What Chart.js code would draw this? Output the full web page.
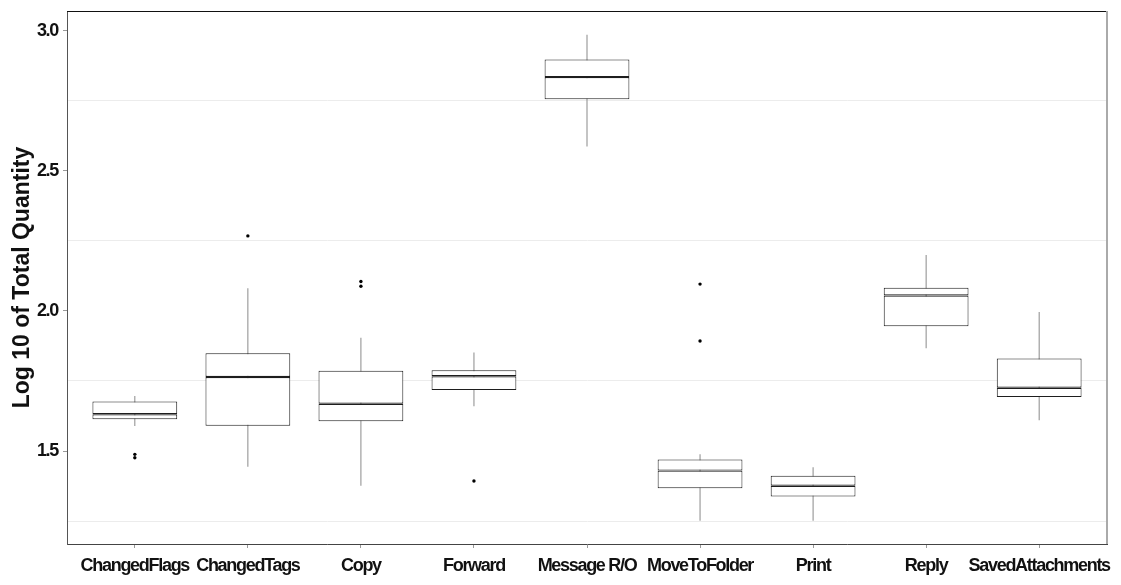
<!DOCTYPE html>
<html><head><meta charset="utf-8">
<script src="https://cdn.jsdelivr.net/npm/chart.js@4.4.1/dist/chart.umd.min.js"></script>
<style>html,body{margin:0;padding:0;background:#fff;} canvas{display:block;}</style>
</head><body>
<canvas id="c" width="1121" height="585"></canvas>
<script>
const categories = ['ChangedFlags','ChangedTags','Copy','Forward','Message R/O','MoveToFolder','Print','Reply','SavedAttachments'];
const whiskerLow  = [1.589, 1.444, 1.376, 1.660, 2.587, 1.251, 1.251, 1.867, 1.610];
const q1          = [1.613, 1.590, 1.606, 1.718, 2.756, 1.367, 1.338, 1.945, 1.693];
const median      = [1.631, 1.764, 1.669, 1.767, 2.835, 1.430, 1.376, 2.055, 1.726];
const q3          = [1.677, 1.849, 1.787, 1.788, 2.898, 1.470, 1.412, 2.083, 1.830];
const whiskerHigh = [1.696, 2.081, 1.904, 1.852, 2.986, 1.488, 1.442, 2.200, 1.996];
const outlierCategory = ['ChangedFlags','ChangedFlags','ChangedTags','Copy','Copy','Forward','MoveToFolder','MoveToFolder'];
const outlierValue    = [1.488, 1.476, 2.268, 2.105, 2.088, 1.393, 2.096, 1.893];
const yTickValues = [1.5, 2.0, 2.5, 3.0];
const yTickLabels = ['1.5', '2.0', '2.5', '3.0'];
const yMinorGrid  = [1.25, 1.75, 2.25, 2.75];
const yTitle = 'Log 10 of Total Quantity';

// pick a condensed bold face if one is installed, otherwise tighten Liberation Sans
function hasFont(name) {
  const c = document.createElement('canvas').getContext('2d');
  const s = 'ChangedFlags mmmWWiiil 3.0';
  c.font = 'bold 20px monospace';
  const w1 = c.measureText(s).width;
  c.font = 'bold 20px "' + name + '", monospace';
  return Math.abs(c.measureText(s).width - w1) > 0.5;
}
let tickFamily = '"Liberation Sans", Arial, sans-serif', tickSize = 18, tickSpacing = '-1.3px';
if (hasFont('Liberation Sans Narrow')) { tickFamily = '"Liberation Sans Narrow"'; tickSize = 19; tickSpacing = '0px'; }
else if (hasFont('Arial Narrow')) { tickFamily = '"Arial Narrow"'; tickSize = 19; tickSpacing = '0px'; }

const framePlugin = {
  id: 'frame',
  afterDatasetsDraw(chart) {
    chart.ctx.letterSpacing = tickSpacing;
  },
  afterDraw(chart) {
    const {ctx, chartArea: a} = chart;
    ctx.letterSpacing = '0px';
    ctx.save();
    ctx.strokeStyle = '#111';
    ctx.lineWidth = 1;
    ctx.beginPath();
    ctx.moveTo(a.left, a.top + 0.5);
    ctx.lineTo(a.right, a.top + 0.5);
    ctx.stroke();
    ctx.strokeStyle = '#aaa';
    ctx.lineWidth = 2;
    ctx.beginPath();
    ctx.moveTo(a.right, a.top);
    ctx.lineTo(a.right, a.bottom);
    ctx.stroke();
    ctx.restore();
  }
};

const idx = c => categories.indexOf(c);

new Chart(document.getElementById('c'), {
  type: 'bar',
  data: {
    datasets: [
      {
        type: 'line',
        label: 'outliers',
        data: outlierCategory.map((c, i) => ({x: idx(c), y: outlierValue[i]})),
        showLine: false,
        pointRadius: 1.7,
        pointBackgroundColor: '#000',
        pointBorderWidth: 0,
        borderColor: '#000',
        order: 0
      },
      {
        label: 'upper box',
        data: categories.map((c, i) => ({x: i, y: [median[i], q3[i]]})),
        backgroundColor: '#fff',
        borderColor: '#1e1e1e',
        borderWidth: {top: 1, left: 1, right: 1, bottom: 1.2},
        borderSkipped: false,
        grouped: false,
        categoryPercentage: 1,
        barPercentage: 0.75,
        order: 1
      },
      {
        label: 'lower box',
        data: categories.map((c, i) => ({x: i, y: [q1[i], median[i]]})),
        backgroundColor: '#fff',
        borderColor: '#1e1e1e',
        borderWidth: {top: 1.2, left: 1, right: 1, bottom: 1},
        borderSkipped: false,
        grouped: false,
        categoryPercentage: 1,
        barPercentage: 0.75,
        order: 2
      },
      {
        label: 'whiskers',
        data: categories.map((c, i) => ({x: i, y: [whiskerLow[i], whiskerHigh[i]]})),
        backgroundColor: '#8a8a8a',
        borderWidth: 0,
        grouped: false,
        maxBarThickness: 1,
        order: 3
      }
    ]
  },
  options: {
    responsive: false,
    animation: false,
    devicePixelRatio: 1,
    layout: {padding: {top: 11, right: 14, left: 0, bottom: 0}},
    plugins: {legend: {display: false}, tooltip: {enabled: false}},
    scales: {
      x: {
        type: 'linear',
        offset: false,
        min: -0.6,
        max: 8.6,
        afterBuildTicks: s => { s.ticks = categories.map((c, i) => ({value: i})); },
        afterFit: s => { s.height = 41; s.paddingLeft = 0; s.paddingRight = 0; },
        ticks: {
          autoSkip: false,
          maxRotation: 0,
          padding: 7,
          z: 1,
          color: '#111',
          font: {family: tickFamily, weight: 'bold', size: tickSize},
          callback: v => categories[Math.round(v)]
        },
        grid: {drawOnChartArea: false, drawTicks: true, tickLength: 4, tickColor: '#999', offset: false},
        border: {color: '#444', width: 1}
      },
      y: {
        type: 'linear',
        min: 1.168,
        max: 3.071,
        afterBuildTicks: s => {
          s.ticks = yMinorGrid.concat(yTickValues).sort((a, b) => a - b).map(v => ({value: v}));
        },
        afterFit: s => { s.width = 67; s.paddingTop = 0; s.paddingBottom = 0; },
        ticks: {
          padding: 5,
          z: 1,
          color: '#111',
          font: {family: tickFamily, weight: 'bold', size: tickSize},
          callback: v => { const k = yTickValues.indexOf(v); return k >= 0 ? yTickLabels[k] : ''; }
        },
        grid: {
          color: c => (c.tick && yMinorGrid.includes(c.tick.value)) ? '#ececec' : 'rgba(0,0,0,0)',
          tickColor: c => (c.tick && yTickValues.includes(c.tick.value)) ? '#999' : 'rgba(0,0,0,0)',
          tickLength: 4,
          lineWidth: 1
        },
        border: {color: '#555', width: 1},
        title: {
          display: true,
          text: yTitle,
          color: '#111',
          font: {family: '"Liberation Sans", Arial, sans-serif', weight: 'bold', size: 23},
          padding: {top: 9, bottom: 0}
        }
      }
    }
  },
  plugins: [framePlugin]
});
</script>
</body></html>
